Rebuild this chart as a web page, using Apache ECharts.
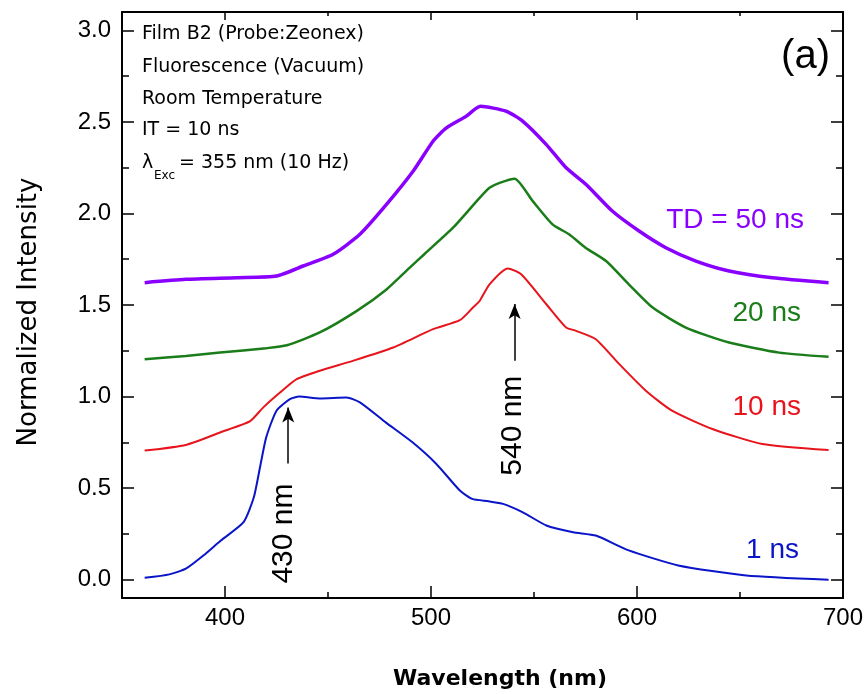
<!DOCTYPE html>
<html>
<head>
<meta charset="utf-8">
<script src="https://cdn.jsdelivr.net/npm/echarts@6/dist/echarts.min.js"></script>
<style>
  html, body { margin: 0; padding: 0; background: #fff; }
  #main { width: 868px; height: 694px; }
</style>
</head>
<body>
<div id="main"></div>
<script>
// values (wavelength in nm, normalized intensity)
var wl1ns = [361, 373, 381, 389.5, 398, 409, 414, 417, 420, 425, 431.5, 436, 446, 459, 465.5, 478, 491, 502.6, 514, 520, 528, 535, 544.6, 556, 569, 580, 596, 620, 653, 693];
var int1ns = [0.01, 0.029, 0.06, 0.132, 0.214, 0.314, 0.45, 0.614, 0.777, 0.923, 0.986, 1.0, 0.99, 0.995, 0.968, 0.859, 0.75, 0.632, 0.487, 0.441, 0.428, 0.414, 0.368, 0.296, 0.259, 0.241, 0.16, 0.078, 0.023, 0.0];

var wl10ns = [361, 381, 397.6, 412, 418.6, 426.7, 434.8, 446, 462, 481.6, 501, 514, 520.4, 523.6, 528.4, 537.3, 543.8, 556, 565.6, 570.4, 580, 591.4, 604.3, 617, 636.6, 660.8, 693];
var int10ns = [0.705, 0.736, 0.804, 0.864, 0.941, 1.022, 1.095, 1.141, 1.195, 1.268, 1.368, 1.417, 1.486, 1.522, 1.613, 1.7, 1.668, 1.504, 1.377, 1.359, 1.313, 1.177, 1.032, 0.923, 0.823, 0.741, 0.708];

var wl20ns = [361, 381, 397.6, 420, 430, 446, 464, 478.4, 489.7, 497, 510.7, 523.6, 528.4, 533.3, 540.6, 549.4, 559, 567, 575, 585, 596, 607.6, 623.7, 644.7, 669, 693];
var int20ns = [1.204, 1.222, 1.24, 1.264, 1.28, 1.35, 1.468, 1.585, 1.704, 1.78, 1.922, 2.085, 2.14, 2.167, 2.19, 2.067, 1.94, 1.886, 1.813, 1.74, 1.613, 1.486, 1.377, 1.295, 1.24, 1.217];

var wl50ns = [361, 381, 405.7, 425, 438, 452.5, 465.5, 478.4, 491.3, 501, 507.5, 517, 524, 536.5, 544.6, 556, 565.6, 575.3, 588, 601, 614, 628.6, 644.7, 665.7, 693];
var int50ns = [1.622, 1.64, 1.649, 1.658, 1.713, 1.777, 1.886, 2.049, 2.23, 2.394, 2.467, 2.53, 2.585, 2.558, 2.503, 2.376, 2.249, 2.158, 2.013, 1.904, 1.813, 1.74, 1.686, 1.649, 1.622];

var xMajor = [400, 500, 600, 700];
var xMinor = [450, 550, 650];
var yMajor = [0, 0.5, 1.0, 1.5, 2.0, 2.5, 3.0];
var yMinor = [0.25, 0.75, 1.25, 1.75, 2.25, 2.75];

// arrows: [wavelength, tail, head]
var peak430 = [430.7, 0.634, 0.94];
var peak540 = [540.6, 1.195, 1.506];

function pairs(xs, ys) {
  return xs.map(function (x, i) { return [x, ys[i]]; });
}

var chart = echarts.init(document.getElementById('main'));

var tickFont = 'Liberation Sans, Arial, sans-serif';
var noteFont = 'DejaVu Sans, sans-serif';

function xAx(pos, ticks, len, showLine, showLabel) {
  return {
    type: 'value', position: pos, min: 350, max: 700,
    axisLine: { show: showLine, onZero: false, lineStyle: { color: '#000', width: 2 } },
    axisTick: { show: true, inside: true, length: len, customValues: ticks, lineStyle: { color: '#000', width: 1.5 } },
    axisLabel: { show: showLabel, customValues: ticks, margin: 8, color: '#000', fontSize: 24, fontFamily: tickFont },
    splitLine: { show: false }
  };
}
function yAx(pos, ticks, len, showLine, showLabel) {
  return {
    type: 'value', position: pos, min: -0.1, max: 3.1,
    axisLine: { show: showLine, onZero: false, lineStyle: { color: '#000', width: 2 } },
    axisTick: { show: true, inside: true, length: len, customValues: ticks, lineStyle: { color: '#000', width: 1.5 } },
    axisLabel: { show: showLabel, customValues: ticks, margin: 11, color: '#000', fontSize: 24, fontFamily: tickFont,
      formatter: function (v) { return v.toFixed(1); } },
    splitLine: { show: false }
  };
}

function line(name, data, color, width) {
  return {
    name: name, type: 'line', data: data, xAxisIndex: 0, yAxisIndex: 0,
    showSymbol: false, smooth: 0.2,
    lineStyle: { color: color, width: width }, itemStyle: { color: color }
  };
}

function arrow(p) {
  return {
    silent: true, symbol: ['none', 'arrow'], symbolSize: [9, 15],
    label: { show: false },
    lineStyle: { color: '#000', width: 1.5, type: 'solid' },
    data: [[{ coord: [p[0], p[1]] }, { coord: [p[0], p[2]] }]]
  };
}

var s1 = line('1 ns', pairs(wl1ns, int1ns), '#0a14c8', 2);
s1.markLine = arrow(peak430);
var s10 = line('10 ns', pairs(wl10ns, int10ns), '#e8141c', 2);
s10.markLine = arrow(peak540);

var option = {
  animation: false,
  backgroundColor: '#fff',
  grid: { left: 122, top: 12, width: 721, height: 586 },
  xAxis: [
    xAx('bottom', xMajor, 12, true, true),
    xAx('bottom', xMinor, 6, false, false),
    xAx('top', xMajor, 8, true, false),
    xAx('top', xMinor, 4, false, false)
  ],
  yAxis: [
    yAx('left', yMajor, 12, true, true),
    yAx('left', yMinor, 7, false, false),
    yAx('right', yMajor, 12, true, false),
    yAx('right', yMinor, 7, false, false)
  ],
  series: [
    line('TD = 50 ns', pairs(wl50ns, int50ns), '#8a00ff', 3.5),
    line('20 ns', pairs(wl20ns, int20ns), '#1a7d1a', 2.5),
    s10,
    s1
  ],
  graphic: [
    { type: 'text', x: 29, y: 312, rotation: Math.PI / 2,
      style: { text: 'Normalized Intensity', fill: '#000', font: '26px ' + noteFont, textAlign: 'center', textVerticalAlign: 'middle' } },
    { type: 'text', x: 500, y: 679,
      style: { text: 'Wavelength (nm)', fill: '#000', font: 'bold 22px ' + noteFont, textAlign: 'center', textVerticalAlign: 'middle' } },
    { type: 'text', x: 142, y: 34, style: { text: 'Film B2 (Probe:Zeonex)', fill: '#000', font: '19px ' + noteFont, textVerticalAlign: 'middle' } },
    { type: 'text', x: 142, y: 67, style: { text: 'Fluorescence (Vacuum)', fill: '#000', font: '19px ' + noteFont, textVerticalAlign: 'middle' } },
    { type: 'text', x: 142, y: 99, style: { text: 'Room Temperature', fill: '#000', font: '19px ' + noteFont, textVerticalAlign: 'middle' } },
    { type: 'text', x: 142, y: 130, style: { text: 'IT = 10 ns', fill: '#000', font: '19px ' + noteFont, textVerticalAlign: 'middle' } },
    { type: 'text', x: 142, y: 163, style: { text: 'λ', fill: '#000', font: '19px ' + noteFont, textVerticalAlign: 'middle' } },
    { type: 'text', x: 154, y: 176, style: { text: 'Exc', fill: '#000', font: '12px ' + noteFont, textVerticalAlign: 'middle' } },
    { type: 'text', x: 179, y: 163, style: { text: '= 355 nm (10 Hz)', fill: '#000', font: '19px ' + noteFont, textVerticalAlign: 'middle' } },
    { type: 'text', x: 830, y: 57, style: { text: '(a)', fill: '#000', font: '40px ' + tickFont, textAlign: 'right', textVerticalAlign: 'middle' } },
    { type: 'text', x: 804, y: 220, style: { text: 'TD = 50 ns', fill: '#8a00ff', font: '28px ' + tickFont, textAlign: 'right', textVerticalAlign: 'middle' } },
    { type: 'text', x: 801, y: 313, style: { text: '20 ns', fill: '#1a7d1a', font: '28px ' + tickFont, textAlign: 'right', textVerticalAlign: 'middle' } },
    { type: 'text', x: 801, y: 407, style: { text: '10 ns', fill: '#e8141c', font: '28px ' + tickFont, textAlign: 'right', textVerticalAlign: 'middle' } },
    { type: 'text', x: 799, y: 550, style: { text: '1 ns', fill: '#0a14c8', font: '28px ' + tickFont, textAlign: 'right', textVerticalAlign: 'middle' } }
  ]
};

chart.setOption(option);

// rotated peak labels placed in data coordinates below each arrow
var p430 = chart.convertToPixel({ xAxisIndex: 0, yAxisIndex: 0 }, [428.6, 0.252]);
var p540 = chart.convertToPixel({ xAxisIndex: 0, yAxisIndex: 0 }, [539.6, 0.841]);
option.graphic.push(
  { type: 'text', x: p430[0], y: p430[1], rotation: Math.PI / 2,
    style: { text: '430 nm', fill: '#000', font: '30px ' + tickFont, textAlign: 'center', textVerticalAlign: 'middle' } },
  { type: 'text', x: p540[0], y: p540[1], rotation: Math.PI / 2,
    style: { text: '540 nm', fill: '#000', font: '30px ' + tickFont, textAlign: 'center', textVerticalAlign: 'middle' } }
);
chart.setOption({ graphic: option.graphic });
</script>
</body>
</html>
